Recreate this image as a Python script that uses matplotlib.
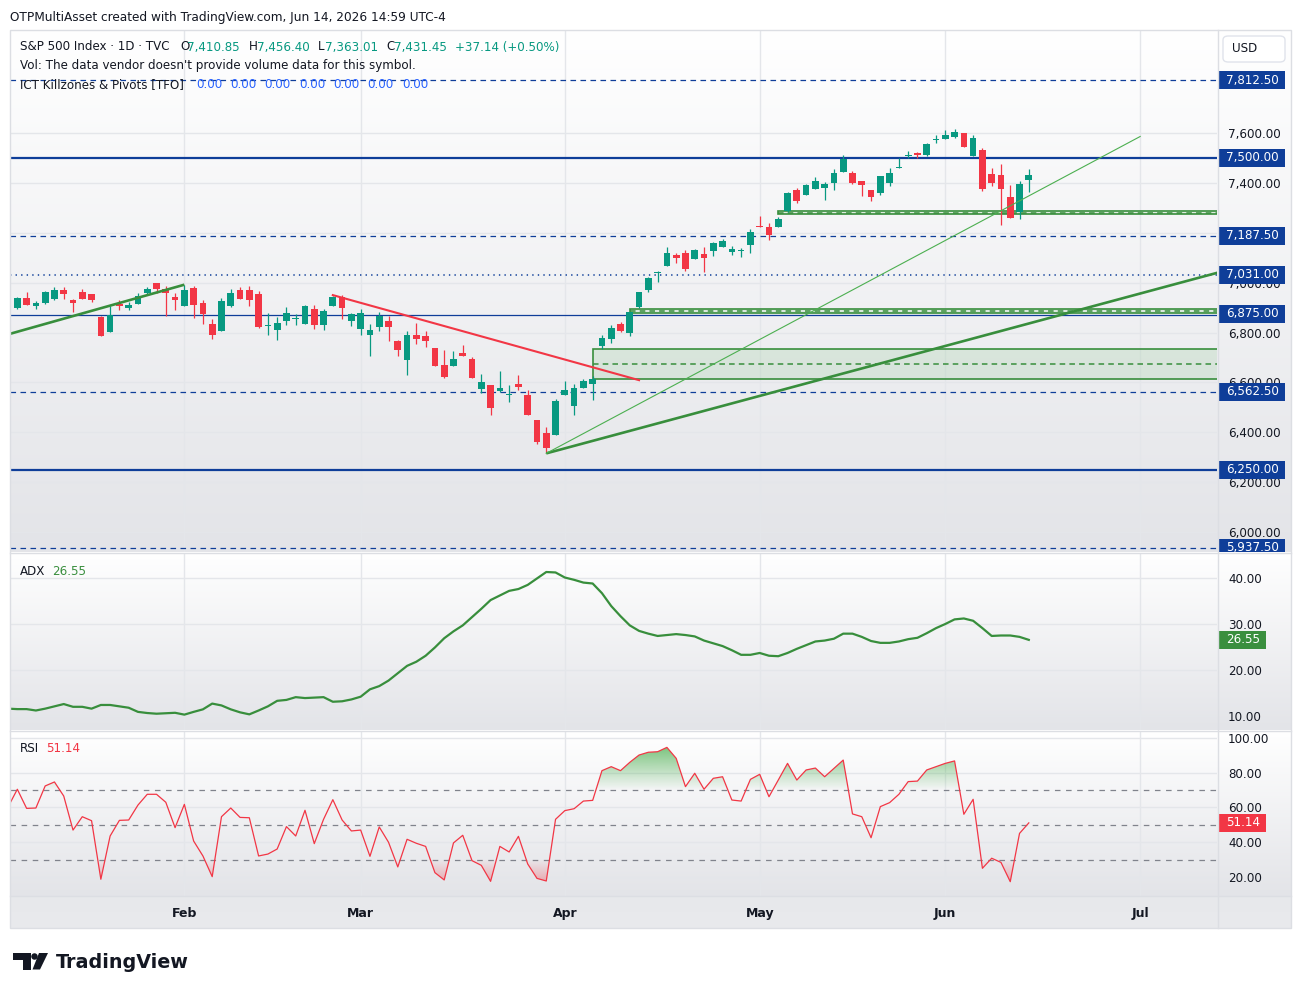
import numpy as np
import pandas as pd
import matplotlib
matplotlib.use("Agg")
import matplotlib.pyplot as plt
from matplotlib.colors import LinearSegmentedColormap, to_rgb
from matplotlib.lines import Line2D
from matplotlib.patches import Rectangle, FancyBboxPatch, Polygon, Ellipse
from matplotlib.path import Path
from matplotlib.transforms import Bbox

plt.rcParams["font.family"] = ["DejaVu Sans"]
plt.rcParams["lines.scale_dashes"] = False

# ---------------- data ----------------
holidays = ["2026-01-19", "2026-02-16", "2026-04-03", "2026-05-25", "2026-06-19", "2026-07-03"]
sessions = pd.bdate_range("2026-01-06", "2026-07-31", freq="C", holidays=holidays)

opens = [6899.6, 6937, 6907.6, 6919.6, 6935.7, 6970.4, 6930.3, 6962.4, 6954.4, 6862,
         6803.4, 6913, 6899.6, 6915.6, 6958.4, 6998.5, 6974.4, 6942.4, 6907.6, 6978.4,
         6918.3, 6834, 6807, 6907.6, 6970.4, 6970.4, 6955.7, 6827, 6811.4, 6847.5,
         6856, 6835.5, 6894, 6831.4, 6907.6, 6941, 6846, 6815.4, 6791.3, 6823.4,
         6846, 6767.3, 6689.7, 6790, 6786, 6738, 6669.7, 6667, 6718, 6693.7,
         6575, 6589.5, 6567, 6548, 6593.5, 6549.4, 6449, 6397, 6390.4, 6550.7,
         6506.6, 6578.8, 6594.8, 6747, 6775, 6834, 6799, 6902.3, 6970.4, 7037,
         7068, 7110.8, 7118.8, 7096, 7114.8, 7128, 7144, 7124, 7128, 7152,
         7228.4, 7224, 7224.4, 7286, 7371.4, 7352.7, 7376.8, 7379.5, 7400.8, 7443.6,
         7441, 7407.5, 7371.4, 7360.7, 7400.8, 7459.7, 7506.4, 7519.8, 7513.1, 7573.5,
         7574.6, 7585.3, 7600, 7509, 7531.8, 7435.6, 7431.6, 7343.4, 7281.9, 7410.85]
highs = [6943.7, 6961, 6925, 6967.7, 6981, 6981, 6934, 6974.4, 6954.4, 6866,
         6906, 6930, 6923.6, 6959.7, 6982.5, 6998.5, 6986.5, 6959.7, 6991.8, 6986.5,
         6931.7, 6854, 6937, 6974.4, 6982.5, 6987.8, 6966.4, 6879.5, 6863.5, 6902.3,
         6874, 6911.6, 6911.6, 6894, 6945, 6950.4, 6879.5, 6894, 6834, 6882,
         6867.5, 6770, 6806, 6839.4, 6806, 6738, 6730, 6726, 6750, 6700,
         6632, 6589.5, 6645.6, 6589.5, 6629.6, 6569.5, 6449, 6422.5, 6533.4, 6605.5,
         6594.8, 6612, 6625.6, 6790, 6829, 6841, 6882, 6962.4, 7024, 7048,
         7141.5, 7120, 7130.8, 7136, 7141.5, 7164, 7175, 7147, 7137, 7215,
         7267, 7240, 7264.5, 7364.8, 7378, 7395.5, 7422, 7402, 7454, 7510,
         7447.6, 7407.5, 7371.4, 7427.6, 7458, 7498, 7529, 7522.5, 7561, 7592,
         7612, 7616, 7600, 7592, 7538.5, 7461, 7475.7, 7391.5, 7406, 7456.40]
lows = [6895.6, 6911, 6894, 6915.6, 6931.7, 6935.7, 6883.5, 6935.7, 6921, 6787.3,
        6803.4, 6890, 6890, 6915.6, 6955.7, 6960, 6866, 6890, 6907.6, 6858.2,
        6835.5, 6774, 6807, 6903.6, 6935.7, 6907.6, 6819.4, 6791.3, 6771.3, 6830,
        6831.4, 6832.8, 6814, 6810, 6907.6, 6854, 6826, 6791.3, 6705.8, 6806,
        6766, 6706, 6629.6, 6755, 6743, 6665.7, 6619, 6667, 6707, 6619,
        6556, 6469, 6563, 6522.7, 6569.5, 6470.6, 6353, 6315.5, 6390.4, 6549.4,
        6470.6, 6576, 6530.7, 6734, 6759, 6803, 6787, 6897, 6963.8, 7004,
        7068, 7080, 7048, 7094.7, 7042.6, 7108, 7144, 7112, 7104, 7119,
        7221.7, 7171, 7222, 7283, 7318, 7351.4, 7376.8, 7331.3, 7371.4, 7443.6,
        7394, 7347.4, 7327.3, 7351.4, 7386, 7459.7, 7498, 7498, 7507.8, 7558.6,
        7574.6, 7580, 7545.2, 7509, 7367.4, 7389, 7232.5, 7259.2, 7253.8, 7363.01]
closes = [6939.7, 6911.6, 6918.3, 6961, 6970, 6955.7, 6919.6, 6935.7, 6930.3, 6787,
          6868.8, 6907.6, 6910.3, 6946.4, 6974.4, 6973, 6959.7, 6930.3, 6970.4, 6910,
          6875.5, 6791, 6925, 6958.4, 6935.7, 6931.7, 6822, 6830, 6839.4, 6878.2,
          6857, 6906, 6831.4, 6886.2, 6942.4, 6899.6, 6875.5, 6878.2, 6810, 6867.5,
          6823.4, 6731, 6791.3, 6774, 6766, 6665.7, 6621.6, 6693.7, 6707, 6619,
          6601.5, 6498.6, 6577.8, 6554.7, 6582.8, 6470.6, 6359.6, 6338, 6525.4, 6569.5,
          6577.5, 6604, 6613.5, 6778, 6818, 6807, 6882, 6962.4, 7018.6, 7040,
          7118.8, 7100, 7054.7, 7130.8, 7100, 7160, 7166.9, 7134.8, 7130, 7203,
          7221.7, 7192.4, 7255.5, 7359.4, 7328.7, 7391.5, 7406, 7394, 7438, 7495.7,
          7400.8, 7391.5, 7344.7, 7427.6, 7438, 7465, 7511.8, 7513.1, 7555.9, 7575,
          7592, 7602.6, 7545.2, 7580, 7375.4, 7398.2, 7375.4, 7259.2, 7394.3, 7431.45]

# ADX / RSI start one session before the first visible candle
adx = [11.6, 11.5, 11.5, 11.2, 11.6, 12.1, 12.6, 12.0, 12.0, 11.6, 12.4, 12.4, 12.1, 11.8,
       10.9, 10.65, 10.5, 10.6, 10.7, 10.3, 10.9, 11.45, 12.7, 12.3, 11.45, 10.8, 10.36,
       11.2, 12.1, 13.3, 13.5, 14.1, 13.9, 14.0, 14.1, 13.1, 13.2, 13.6, 14.2, 15.8, 16.5,
       17.7, 19.3, 20.9, 21.8, 23.1, 24.9, 26.9, 28.4, 29.7, 31.5, 33.3, 35.2, 36.2, 37.2,
       37.6, 38.5, 39.9, 41.3, 41.2, 40.1, 39.6, 39.0, 38.8, 36.7, 33.9, 31.7, 29.7, 28.5,
       27.9, 27.4, 27.6, 27.8, 27.6, 27.3, 26.4, 25.8, 25.2, 24.3, 23.3, 23.3, 23.7, 23.1,
       23.0, 23.7, 24.6, 25.4, 26.2, 26.4, 26.8, 27.9, 27.9, 27.2, 26.3, 25.9, 25.9, 26.2,
       26.7, 27.0, 28.0, 29.1, 30.0, 31.0, 31.2, 30.7, 29.1, 27.4, 27.5, 27.5, 27.2, 26.55]
rsi = [60.3, 70.5, 59.5, 59.7, 72.4, 74.7, 66.6, 47.0, 54.7, 52.4, 18.7, 43.6, 52.6, 52.8,
       61.4, 67.6, 67.6, 63.0, 48.4, 61.8, 40.7, 32.1, 20.2, 54.7, 59.7, 54.3, 54.1, 32.1,
       33.2, 36.1, 49.0, 43.6, 58.4, 39.2, 53.2, 64.5, 52.8, 46.5, 47.0, 31.9, 48.8, 40.0,
       25.8, 41.7, 39.4, 37.6, 22.5, 18.3, 39.6, 44.0, 29.4, 26.7, 17.5, 37.6, 34.4, 43.4,
       27.5, 19.2, 17.7, 53.2, 58.2, 59.3, 63.7, 64.1, 81.2, 83.5, 81.2, 86.0, 90.2, 91.8,
       92.1, 94.6, 88.3, 72.0, 79.7, 70.5, 76.8, 77.7, 64.3, 63.7, 76.2, 79.1, 66.2, 75.8,
       85.4, 75.8, 81.6, 82.7, 77.7, 82.5, 87.3, 56.3, 54.7, 42.6, 60.5, 62.8, 67.6, 74.9,
       75.2, 81.6, 83.5, 85.4, 86.8, 56.1, 64.7, 25.0, 30.8, 28.4, 17.3, 45.1, 51.14]

pivot_levels = [7812.5, 7500.0, 7187.5, 7031.0, 6875.0, 6562.5, 6250.0, 5937.5]
zone_start = [62, 66, 82]
zone_low = [6613, 6880, 7274]
zone_high = [6733, 6896, 7288]
trend_green = [((-1, 6792.6), (18, 6991.8)), ((57, 6315.5), (131, 7056.5))]
trend_green_thin = [((57, 6315.5), (121, 7586))]
trend_red = [((34, 6950), (67, 6609))]

# ---------------- styling ----------------
W, H = 1302, 996
GREEN, RED = "#089981", "#f23645"
BLUE = "#0f3e99"
LINE_GREEN = "#388e3c"
TXT = "#131722"
GRID = "#e4e6ea"

fig = plt.figure(figsize=(W / 100, H / 100), dpi=100)
fig.patch.set_facecolor("white")


def fx(px):
    return px / W


def fy(py):
    return 1 - py / H


def ftext(px, py, s, **kw):
    kw.setdefault("va", "center")
    kw.setdefault("color", TXT)
    return fig.text(fx(px), fy(py), s, **kw)


def pane_bg(y_top, y_bot, c_top="#ffffff", c_bot="#e3e4e8"):
    bg = fig.add_axes([fx(10), fy(y_bot), 1281 / W, (y_bot - y_top) / H], zorder=0)
    bg.axis("off")
    cmap = LinearSegmentedColormap.from_list("bg", [c_top, c_bot])
    bg.imshow(np.linspace(0, 1, 256)[:, None], aspect="auto", cmap=cmap,
              extent=[0, 1, 0, 1], origin="upper")


pane_bg(30, 552)
pane_bg(553, 730)
pane_bg(731, 896)
pane_bg(896, 928, "#e7e8eb", "#e9eaed")

x = np.arange(len(opens))
xi = np.arange(-1, len(opens))
month_idx, month_lbl = [], []
for k in range(1, len(sessions)):
    if sessions[k].month != sessions[k - 1].month and sessions[k].month > 1 and k < 130:
        month_idx.append(k)
        month_lbl.append(sessions[k].strftime("%b"))

XL = (-0.79, 129.28)


def data_ax(y_top, y_bot, ylim, yticks, fmt):
    a = fig.add_axes([fx(10), fy(y_bot), 1207 / W, (y_bot - y_top) / H], zorder=2)
    a.set_facecolor("none")
    for s in a.spines.values():
        s.set_visible(False)
    a.set_xlim(*XL)
    a.set_ylim(*ylim)
    a.yaxis.tick_right()
    a.set_yticks(yticks)
    a.set_yticklabels([fmt.format(v) for v in yticks])
    a.tick_params(axis="y", length=0, pad=8, labelsize=8.6, labelcolor=TXT)
    a.set_xticks(month_idx)
    a.set_xticklabels([])
    a.tick_params(axis="x", length=0)
    a.grid(True, color=GRID, linewidth=1)
    a.set_axisbelow(True)
    return a


ax = data_ax(30, 552, (5920, 8013), np.arange(6000, 7601, 200), "{:,.2f}")
ax_adx = data_ax(553, 730, (6.96, 45.43), [10, 20, 30, 40], "{:.2f}")
ax_rsi = data_ax(731, 896, (9.06, 104.03), [20, 40, 60, 80, 100], "{:.2f}")
ax_rsi.set_xticklabels(month_lbl)
ax_rsi.tick_params(axis="x", pad=8, labelsize=9, labelcolor=TXT)
for t in ax_rsi.get_xticklabels():
    t.set_fontweight("bold")

# ---- main pane ----
for s, lo, hi in zip(zone_start, zone_low, zone_high):
    ax.add_patch(Rectangle((s, lo), XL[1] - s + 1, hi - lo, facecolor="#4caf50", alpha=0.13,
                           edgecolor="none", zorder=2))
    ax.add_patch(Rectangle((s, lo), XL[1] - s + 1, hi - lo, facecolor="none",
                           edgecolor=LINE_GREEN, linewidth=1.2, zorder=2.1))
    ax.plot([s, XL[1] + 1], [(lo + hi) / 2] * 2, color=LINE_GREEN, linewidth=1.1,
            dashes=(4, 3), zorder=2.1)

for lvl in pivot_levels:
    if lvl in (7500.0, 6250.0):
        ax.axhline(lvl, color=BLUE, linewidth=1.6, zorder=3)
    elif lvl == 6875.0:
        ax.axhline(lvl - 5, color=BLUE, linewidth=0.9, zorder=3)
    elif lvl == 7031.0:
        ax.axhline(lvl, color=BLUE, linewidth=1.1, dashes=(1, 3), zorder=3)
    else:
        ax.axhline(lvl, color=BLUE, linewidth=0.9, dashes=(4, 3.2), zorder=3)

o, h, l, c = map(np.array, (opens, highs, lows, closes))
cols = np.where(c >= o, GREEN, RED)
ax.vlines(x, l, h, colors=cols, linewidth=0.9, zorder=4)
ax.bar(x, np.maximum(np.abs(c - o), 4), bottom=np.minimum(o, c), width=0.72,
       color=cols, linewidth=0, zorder=5)

for (a0, a1) in trend_green:
    ax.plot([a0[0], a1[0]], [a0[1], a1[1]], color=LINE_GREEN, linewidth=1.9, zorder=6,
            solid_capstyle="butt")
for (a0, a1) in trend_green_thin:
    ax.plot([a0[0], a1[0]], [a0[1], a1[1]], color="#4caf50", linewidth=0.8, zorder=6)
for (a0, a1) in trend_red:
    ax.plot([a0[0], a1[0]], [a0[1], a1[1]], color=RED, linewidth=1.5, zorder=6)

# ---- ADX ----
ax_adx.plot(xi, adx, color=LINE_GREEN, linewidth=1.6, zorder=4)

# ---- RSI ----
rsi_a = np.array(rsi, dtype=float)
for lvl in (70, 50, 30):
    ax_rsi.axhline(lvl, color="#80838c", linewidth=0.9, dashes=(4, 4), zorder=2)


def rsi_gradient(level, top, color, alpha_top, alpha_bot, above):
    where = rsi_a >= level if above else rsi_a <= level
    coll = ax_rsi.fill_between(xi, rsi_a, level, where=where, interpolate=True,
                               facecolor="none", edgecolor="none")
    path = Path.make_compound_path(*coll.get_paths())
    rgba = np.zeros((256, 1, 4))
    rgba[..., :3] = to_rgb(color)
    rgba[:, 0, 3] = np.linspace(alpha_top, alpha_bot, 256)
    lo, hi = (level, top) if above else (top, level)
    im = ax_rsi.imshow(rgba, extent=[xi[0], xi[-1], lo, hi], aspect="auto",
                       origin="upper", zorder=3)
    im.set_clip_path(path, transform=ax_rsi.transData)
    coll.remove()


rsi_gradient(70, 100, "#4caf50", 0.9, 0.0, True)
rsi_gradient(30, 0, RED, 0.0, 0.8, False)
ax_rsi.set_xlim(*XL)
ax_rsi.set_ylim(9.06, 104.03)
ax_rsi.plot(xi, rsi_a, color=RED, linewidth=0.9, zorder=4)


# ---- right-side value boxes (clipped to their pane) ----
def side_box(a, value, text, fc, x1=1285):
    yc = H - a.transData.transform((0, value))[1]
    pb = a.get_window_extent()
    clip = Bbox.from_extents(1217, pb.y0, W, pb.y1)
    r = Rectangle((fx(1218), fy(yc + 9)), (x1 - 1218) / W, 18 / H,
                  transform=fig.transFigure, facecolor=fc, edgecolor="none", zorder=5)
    r.set_clip_box(clip)
    fig.add_artist(r)
    t = ftext((1218 + x1) / 2 + 1, yc, text, color="white", ha="center", fontsize=8.6,
              zorder=6)
    t.set_clip_box(clip)
    t.set_clip_on(True)


for lvl in pivot_levels:
    side_box(ax, lvl, "{:,.2f}".format(lvl), BLUE)
side_box(ax_adx, adx[-1], "{:.2f}".format(adx[-1]), "#3a8f3e", 1266)
side_box(ax_rsi, rsi[-1], "{:.2f}".format(rsi[-1]), RED, 1266)

# ---- frame ----
fig.add_artist(Rectangle((fx(10), fy(928)), 1281 / W, 898 / H, transform=fig.transFigure,
                         fill=False, edgecolor="#dcdee3", linewidth=1, zorder=7))
for yy in (552.5, 730.5, 896):
    fig.add_artist(Line2D([fx(10), fx(1291)], [fy(yy)] * 2, color="#dcdee3", linewidth=1,
                          zorder=7))
fig.add_artist(Line2D([fx(1217.5)] * 2, [fy(30), fy(928)], color="#dcdee3", linewidth=1,
                      zorder=7))

fig.add_artist(FancyBboxPatch((fx(1223), fy(62)), 62 / W, 26 / H, transform=fig.transFigure,
                              boxstyle="round,pad=0,rounding_size=0.004", facecolor="white",
                              edgecolor="#e0e3eb", linewidth=1, zorder=7))
ftext(1232, 49, "USD", fontsize=8.6, zorder=8)

# ---- texts ----
ftext(10, 17, "OTPMultiAsset created with TradingView.com, Jun 14, 2026 14:59 UTC-4", fontsize=8.7)
hs = 8.6
ftext(20, 47, "S&P 500 Index · 1D · TVC", fontsize=hs)
for px_l, lab, px_v, val in [(180, "O", 187, "7,410.85"), (249, "H", 257, "7,456.40"),
                             (318, "L", 325, "7,363.01"), (386, "C", 394, "7,431.45")]:
    ftext(px_l, 47, lab, fontsize=hs)
    ftext(px_v, 47, val, fontsize=hs, color=GREEN)
ftext(455, 47, "+37.14 (+0.50%)", fontsize=hs, color=GREEN)
ftext(20, 66, "Vol: The data vendor doesn't provide volume data for this symbol.", fontsize=hs)
ftext(20, 85, "ICT Killzones & Pivots [TFO]", fontsize=hs)
for k in range(7):
    ftext(196 + 34.3 * k, 85, "0.00", fontsize=hs, color="#2962ff")

ftext(20, 571, "ADX", fontsize=hs)
ftext(52, 571, "{:.2f}".format(adx[-1]), fontsize=hs, color="#3a8f3e")
ftext(20, 748, "RSI", fontsize=hs)
ftext(46, 748, "{:.2f}".format(rsi[-1]), fontsize=hs, color=RED)

# ---- TradingView logo ----
logo = "#131722"
fig.add_artist(Rectangle((fx(13), fy(959.5)), 17.5 / W, 6.5 / H, transform=fig.transFigure,
                         facecolor=logo, edgecolor="none"))
fig.add_artist(Rectangle((fx(23), fy(969.5)), 7.5 / W, 16.5 / H, transform=fig.transFigure,
                         facecolor=logo, edgecolor="none"))
fig.add_artist(Polygon([(fx(39), fy(953)), (fx(48), fy(953)), (fx(40), fy(969.5)),
                        (fx(32.5), fy(969.5))], closed=True, transform=fig.transFigure,
                       facecolor=logo, edgecolor="none"))
fig.add_artist(Ellipse((fx(34.5), fy(956.5)), 6.5 / W, 6.5 / H, transform=fig.transFigure,
                       facecolor=logo, edgecolor="none"))
fig.text(fx(56), fy(967.5), "TradingView", fontsize=13.8, fontweight="bold", color=logo,
         va="baseline")

fig.savefig("out.png", dpi=100)
